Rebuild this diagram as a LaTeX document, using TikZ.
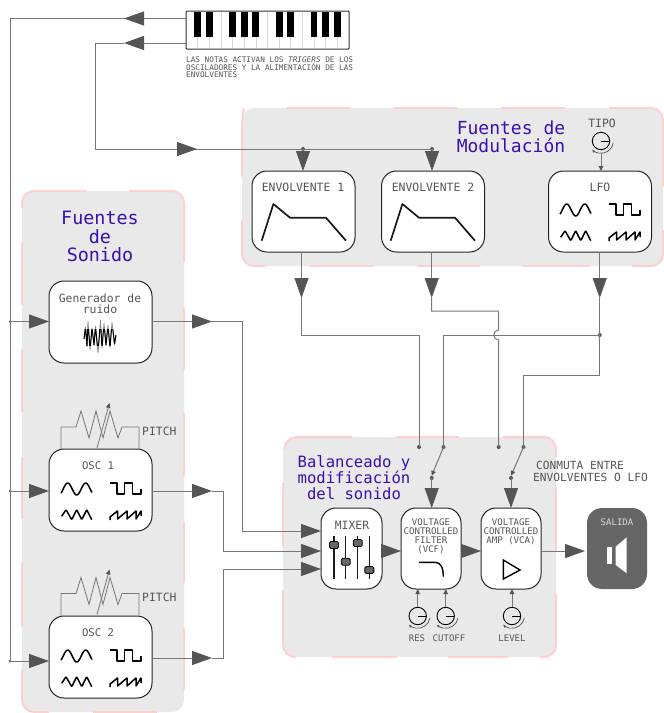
\documentclass[tikz,border=0pt]{standalone}
\usepackage{fontspec}
\setmainfont{DejaVu Sans Mono}
\usetikzlibrary{arrows.meta,calc}
\definecolor{ink}{HTML}{555555}
\definecolor{wirec}{HTML}{777777}
\definecolor{panelc}{HTML}{E9E9E9}
\definecolor{pinkc}{HTML}{FFD0D0}
\definecolor{titlec}{HTML}{3A10B0}
\newcommand{\fsz}[1]{\fontsize{#1}{#1}\selectfont}
\tikzset{
 x=1pt,y=-1pt,
 panelfill/.style={fill=panelc,rounded corners=12pt},
 paneledge/.style={draw=pinkc,line width=2pt,rounded corners=12pt},
 box/.style={draw=black!85,fill=white,line width=1pt,rounded corners=15pt,inner sep=0pt,outer sep=0pt},
 lbl/.style={text=ink,align=center,inner sep=0pt,font=\fsz{11.4}},
 title/.style={text=titlec,align=center,inner sep=0pt},
 wire/.style={draw=wirec,line width=1pt},
 bigtip/.style={-{Triangle[length=20pt,width=14pt,color=ink]}},
 smalltip/.style={-{Triangle[length=5pt,width=4.5pt,color=ink]}},
 jdot/.style={circle,fill=ink,inner sep=0pt,minimum size=4pt},
 sdot/.style={circle,fill=ink,inner sep=0pt,minimum size=2.5pt},
 ic/.style={draw=black,line width=1.5pt,line join=round},
 waves/.pic={
  \draw[ic] plot[smooth,domain=0:31,samples=32] (\x,{6-6*cos(20*(\x-6.7))});
  \draw[ic] (49,0)--(56,0)--(56,11)--(63.5,11)--(63.5,0)--(71.5,0)--(71.5,11)--(80,11)--(80,6);
  \draw[ic,rounded corners=.8pt] (0.7,33.3)--(5,26.7)--(10.7,36.7)--(15.7,26.7)--(20.7,36.7)--(25.7,26.7)--(30.7,36.7);
  \draw[ic] (49,37)--(49,34)--(56.5,28)--(56.5,36)--(66,28)--(66,36)--(75,28)--(75,36)--(80,28)--(80,33);
 },
 env/.pic={\draw[draw=black!90,line width=1.7pt,line join=round] (0,36.7)--(11.7,0)--(28.3,13.7)--(64.3,13.7)--(84.3,36.7);},
 knob/.pic={
  \draw[draw=black,line width=.9pt] (0,0) circle (8.7);
  \draw[draw=black,line width=.9pt] (0,0)--(8.7,0);
  \draw[draw=ink,line width=.7pt,-{Stealth[length=3.5pt]}] (12.3,2) arc[start angle=10,end angle=135,radius=12.5];
 },
 resistor/.pic={
  \draw[draw=wirec,line width=.8pt] (0,22)--(0,0)--(15,0)--(20,-16)--(28,11)--(35,-16)--(42,11)--(49,-16)--(57,11)--(61,0)--(78,0)--(78,22);
  \draw[wirec,line width=.8pt,smalltip] (36,21)--(48.5,-24);
 },
 slider/.style={draw=black,line width=.9pt,fill=ink!90,rounded corners=1.5pt,minimum width=9pt,minimum height=7pt,inner sep=0pt,shape=rectangle},
}
\newcommand{\noisepath}{(84,339)--(85.5,327)--(87,347)--(88,321)--(90,350)--(92,328)--(94,345)--(95.5,326)--(98,353)--(100.5,320)--(102,348)--(104,323)--(106,345)--(108,325)--(110,348)--(112,322)--(114.5,344)--(116,335)}
\begin{document}
\begin{tikzpicture}
\useasboundingbox (0,0) rectangle (664,713);
% panel: modulation
\fill[panelfill] (242,108) rectangle (663,266);
\draw[paneledge] (242,177)--(242,120)--(243,113);
\draw[paneledge] (287,108)--(350,108) (394,108)--(458,108) (501,108)--(565,108);
\draw[paneledge] (609,108)--(663,108)--(663,187);
\draw[paneledge] (663,230)--(663,266)--(632,266);
\draw[paneledge] (523,266)--(590,266) (417,266)--(480,266) (309,266)--(373,266);
\draw[paneledge] (265,266)--(242,266)--(242,220);
% panel: sound
\fill[panelfill] (22,191) rectangle (184,712);
\draw[paneledge] (22,208)--(22,191)--(86,191);
\draw[paneledge] (129,191)--(184,191)--(184,262);
\draw[paneledge] (184,307)--(184,370) (184,413)--(184,477) (184,522)--(184,583) (184,628)--(184,690);
\draw[paneledge] (22,242)--(22,305) (22,349)--(22,412) (22,457)--(22,519) (22,563)--(22,627);
\draw[paneledge] (22,670)--(22,712)--(49,712);
\draw[paneledge] (93,712)--(157,712);
% panel: balance
\fill[panelfill] (283,437) rectangle (556,657);
\draw[paneledge] (285,446)--(285,437)--(352,437);
\draw[paneledge] (396,437)--(459,437);
\draw[paneledge] (503,437)--(556,437)--(556,457);
\draw[paneledge] (556,487)--(556,551);
\draw[paneledge] (556,594)--(556,657)--(540,657);
\draw[paneledge] (508,657)--(448,657) (397,657)--(332,657);
\draw[paneledge] (283,483)--(283,547);
\draw[paneledge] (283,590)--(283,657)--(296,657);
% boxes
\node[box,minimum width=103pt,minimum height=81pt] (envA) at (303.5,211.5) {};
\node[box,minimum width=103pt,minimum height=81pt] (envB) at (433,211.5) {};
\node[box,minimum width=103pt,minimum height=81pt] (lfo) at (600,211.5) {};
\node[box,minimum width=103pt,minimum height=82pt] (noise) at (100.5,322) {};
\node[box,minimum width=103pt,minimum height=82pt] (oscA) at (100.5,490) {};
\node[box,minimum width=103pt,minimum height=82pt] (oscB) at (100.5,657) {};
\node[box,minimum width=61pt,minimum height=81pt] (mixer) at (351.5,548.5) {};
\node[box,minimum width=60pt,minimum height=81pt] (vcf) at (431,548.5) {};
\node[box,minimum width=60pt,minimum height=81pt] (vca) at (511,548.5) {};
\node[draw=none,fill=ink!90,rounded corners=15pt,minimum width=60pt,minimum height=81pt,inner sep=0pt,outer sep=0pt] (out) at (617,548.5) {};
% keyboard
\node[draw=black!80,fill=white,line width=1pt,minimum width=163pt,minimum height=38pt,inner sep=0pt,outer sep=0pt,rounded corners=.8pt] (kbd) at (267.5,30) {};
\foreach \k in {1,...,13} \draw[black!15,line width=.6pt] ({186+11.64*\k},12)--({186+11.64*\k},48);
\foreach \k in {1,2,4,5,6,8,9,11,12,13} \fill[black] ({186+11.64*\k-3.4},11.5) rectangle ({186+11.64*\k+3.4},37);
\node[lbl,font=\fsz{7.7},text=ink,align=left,anchor=north west] (note) at (186,56.5) {LAS NOTAS ACTIVAN LOS \textit{TRIGERS} DE LOS\\OSCILADORES Y LA ALIMENTACIÓN DE LAS\\ENVOLVENTES};
% titles
\node[title,font=\fsz{18}] (tMod) at (511,137) {Fuentes de\\[-.5pt]Modulación};
\node[title,font=\fsz{18.4}] (tSon) at (100,236.5) {Fuentes\\de\\Sonido};
\node[title,font=\fsz{15.6}] (tBal) at (354,477.5) {Balanceado y\\modificación\\del sonido};
% labels
\node[lbl] (lA) at (303,187) {ENVOLVENTE 1};
\node[lbl] (lB) at (433,187) {ENVOLVENTE 2};
\node[lbl] (lL) at (600,187) {LFO};
\node[lbl] (lT) at (602,123) {TIPO};
\node[lbl,font=\fsz{11.4}] (lN) at (100,303.5) {Generador de\\ruido};
\node[lbl,font=\fsz{10.6}] (lO1) at (98,466) {OSC 1};
\node[lbl,font=\fsz{10.6}] (lO2) at (98,633) {OSC 2};
\node[lbl,anchor=west] (lP1) at (142,431) {PITCH};
\node[lbl,anchor=west] (lP2) at (142,597) {PITCH};
\node[lbl] (lM) at (352,525) {MIXER};
\node[lbl,font=\fsz{9.1}] (lF) at (431,536) {VOLTAGE\\CONTROLLED\\FILTER\\(VCF)};
\node[lbl,font=\fsz{9.1}] (lV) at (511,531.5) {VOLTAGE\\CONTROLLED\\AMP (VCA)};
\node[lbl,font=\fsz{9},text=black!15] (lS) at (617,522) {SALIDA};
\node[lbl,font=\fsz{11.2},align=left,anchor=west] (lC) at (533,471.5) {\hspace*{3pt}CONMUTA ENTRE\\ENVOLVENTES O LFO};
\node[lbl,font=\fsz{9}] (lR) at (417,638) {RES};
\node[lbl,font=\fsz{9}] (lCu) at (449,638) {CUTOFF};
\node[lbl,font=\fsz{9}] (lLe) at (512,638) {LEVEL};
% icons
\pic at (261.7,204) {env};
\pic at (390.7,204) {env};
\pic at (560,204) {waves};
\pic at (61,483) {waves};
\pic at (61,650) {waves};
\pic at (61,427) {resistor};
\pic at (61,593.5) {resistor};
% noise icon
\draw[black!45,line width=.8pt,line join=round] \noisepath;
\begin{scope}
\clip (80,329) rectangle (120,345);
\draw[black,line width=1pt,line join=round] \noisepath;
\end{scope}
% mixer icon
\foreach \x/\y in {334/545,345.7/561.7,357.7/543,369.3/570}{
 \draw[black!90,line width=1.1pt] (\x,535.7)--(\x,579);
 \node[slider] at (\x,\y) {};
}
% filter and amp icons
\draw[black,line width=1.4pt] (419,562.3)--(435,562.3) .. controls (441,562.3) and (443.3,568) .. (443.3,576.7);
\draw[black,line width=1.4pt,line join=miter] (503.3,560)--(520,570)--(503.3,579)--cycle;
% speaker icon
\fill[white] (606.7,546.7) rectangle (612.3,564.3);
\fill[white] (615.7,546.7)--(626.7,537.3)--(626.7,573.3)--(615.7,565)--cycle;
% coords
\coordinate (busTop) at (10,18.5);
\coordinate (t1) at (124,18.5);
\coordinate (t2) at (124,43);
\coordinate (c2a) at (95.5,43);
\coordinate (c2b) at (95.5,149);
\coordinate (t3) at (197,149);
\node[jdot] (jA) at (303,149) {};
\node[jdot] (jB) at (432,149) {};
\node[sdot] (b1) at (10,321.5) {};
\node[sdot] (b2) at (10,491) {};
\node[sdot] (b3) at (10,661) {};
% keyboard wires
\draw[wire,bigtip] (kbd.west|-busTop) -- (t1);
\draw[wire] (t1) -- (busTop) -- (b3.center);
\draw[wire,bigtip] (kbd.west|-t2) -- (t2);
\draw[wire] (t2) -- (c2a) -- (c2b) -- (t3);
\draw[wire,bigtip] (c2b) -- (t3);
\draw[wire] (t3) -- (jB.center);
\draw[wire,bigtip] (jA.center) -- (jA.center|-envA.north);
\draw[wire,bigtip] (jB.center) -- (jB.center|-envB.north);
\draw[wire,bigtip] (b1.center) -- (b1.center-|noise.west);
\draw[wire,bigtip] (b2.center) -- (b2.center-|oscA.west);
\draw[wire,bigtip] (b3.center) -- (b3.center-|oscB.west);
% source outs
\coordinate (n1) at (212,321.5); \coordinate (n2) at (242,321.5); \coordinate (n3) at (242,531);
\coordinate (o1) at (212,491); \coordinate (o2) at (223,491); \coordinate (o3) at (223,551);
\coordinate (p1) at (212,658); \coordinate (p2) at (223,658); \coordinate (p3) at (223,569);
\draw[wire,bigtip] (noise.east|-n1) -- (n1);
\draw[wire] (n1)--(n2)--(n3);
\draw[wire,bigtip] (n3) -- (n3-|mixer.west);
\draw[wire,bigtip] (oscA.east|-o1) -- (o1);
\draw[wire] (o1)--(o2)--(o3);
\draw[wire,bigtip] (o3) -- (o3-|mixer.west);
\draw[wire,bigtip] (oscB.east|-p1) -- (p1);
\draw[wire] (p1)--(p2)--(p3);
\draw[wire,bigtip] (p3) -- (p3-|mixer.west);
% chain
\coordinate (m) at (0,551);
\draw[wire,bigtip] (mixer.east|-m) -- (vcf.west|-m);
\draw[wire,bigtip] (vcf.east|-m) -- (vca.west|-m);
\draw[wire,bigtip] (vca.east|-m) -- (585,551);
% modulation routing
\coordinate (ea) at (301.5,298); \coordinate (eb) at (431.7,298); \coordinate (el) at (599.7,298);
\draw[wire,bigtip] (envA.south-|ea) -- (ea);
\draw[wire,bigtip] (envB.south-|eb) -- (eb);
\draw[wire,bigtip] (lfo.south-|el) -- (el);
\node[jdot] (sA) at (419,447) {};
\node[jdot] (sB) at (443.5,447) {};
\node[jdot] (sC) at (498.7,447) {};
\node[jdot] (sD) at (523.5,447) {};
\node[jdot] (jL) at (599.7,335) {};
\node[jdot] (pF) at (431.7,478) {};
\node[jdot] (pV) at (511,478) {};
\draw[wire] (ea) -- (301.5,335) -- (419,335) -- (sA.center);
\draw[wire] (eb) -- (431.7,311) -- (498.7,311) -- (498.7,330) arc[start angle=-90,end angle=-270,radius=5] -- (sC.center);
\draw[wire] (el) -- (599.7,375.7) -- (523.5,375.7) -- (sD.center);
\draw[wire] (jL.center) -- (443.5,335) -- (sB.center);
\draw[wire,smalltip] (sB.center) -- (pF.north);
\draw[wire,smalltip] (sD.center) -- (pV.north);
\draw[wire,bigtip] (pF.center) -- (vcf.north-|pF);
\draw[wire,bigtip] (pV.center) -- (vca.north-|pV);
% knobs
\coordinate (kT) at (601,141); \coordinate (kR) at (417.7,616); \coordinate (kC) at (445.7,616); \coordinate (kL) at (512,616);
\pic at (kT) {knob}; \pic at (kR) {knob}; \pic at (kC) {knob}; \pic at (kL) {knob};
\draw[wire,smalltip] (kT)++(0,12) -- (lfo.north-|kT);
\draw[wire,smalltip] (kR)++(0,-9) -- (vcf.south-|kR);
\draw[wire,smalltip] (kC)++(0,-9) -- (vcf.south-|kC);
\draw[wire,smalltip] (kL)++(0,-9) -- (vca.south-|kL);
\end{tikzpicture}
\end{document}
